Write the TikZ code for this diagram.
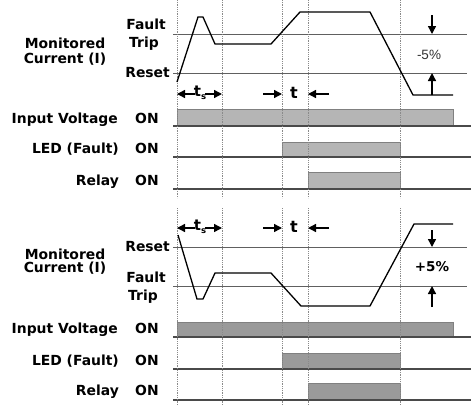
\documentclass[tikz,border=0pt]{standalone}
\usepackage{fontspec}
\setmainfont{DejaVu Sans}
\newfontfamily\pctfont{Liberation Sans}
\usetikzlibrary{arrows.meta}
\definecolor{barA}{HTML}{B5B5B5}
\definecolor{barB}{HTML}{9A9A9A}
\definecolor{edgeC}{HTML}{808080}
\definecolor{baseC}{HTML}{4A4A4A}
\definecolor{thrC}{HTML}{606060}
\definecolor{dotC}{HTML}{8A8A8A}
\begin{document}
\begin{tikzpicture}[x=1pt,y=-1pt,
  lbl/.style={font=\fontsize{13.9}{16}\selectfont\bfseries, inner sep=0pt},
  pct/.style={inner sep=0pt},
  wave/.style={line width=1.3pt, black, line join=miter},
  thr/.style={line width=0.8pt, thrC},
  baseln/.style={line width=1.4pt, baseC},
  guide/.style={line width=0.8pt, dotC, densely dotted},
  barTop/.style={fill=barA, draw=edgeC, line width=0.6pt},
  barBot/.style={fill=barB, draw=edgeC, line width=0.6pt},
  arr/.style={line width=1.4pt, -{Triangle[length=8pt,width=8pt]}},
]
\useasboundingbox (0,0) rectangle (471,405);

% ================= TOP PANEL =================
\path[barTop] (177,109) rectangle (453,126);
\path[barTop] (282,142) rectangle (400,157);
\path[barTop] (308,172) rectangle (400,189);
\coordinate (tb1a) at (173,126); \coordinate (tb1b) at (471,126);
\coordinate (tb2a) at (173,157); \coordinate (tb2b) at (471,157);
\coordinate (tb3a) at (173,189); \coordinate (tb3b) at (471,189);
\draw[baseln] (tb1a) -- (tb1b);
\draw[baseln] (tb2a) -- (tb2b);
\draw[baseln] (tb3a) -- (tb3b);
\coordinate (ttripa) at (173,34); \coordinate (ttripb) at (467,34);
\coordinate (tresa) at (173,73); \coordinate (tresb) at (467,73);
\draw[thr] (ttripa) -- (ttripb);
\draw[thr] (tresa) -- (tresb);
\foreach \x/\n in {177/a,222/b,282/c,308/d,400/e}{
  \coordinate (tg\n1) at (\x,0); \coordinate (tg\n2) at (\x,198);
  \draw[guide] (tg\n1) -- (tg\n2);
}
\coordinate (w1) at (177,82);
\coordinate (w2) at (198,17);
\coordinate (w3) at (203,17);
\coordinate (w4) at (215,44);
\coordinate (w5) at (271,44);
\coordinate (w6) at (300,12);
\coordinate (w7) at (370,12);
\coordinate (w8) at (413,95);
\coordinate (w9) at (453,95);
\draw[wave] (w1) -- (w2) -- (w3) -- (w4) -- (w5) -- (w6) -- (w7) -- (w8) -- (w9);
\coordinate (tda) at (432,15); \coordinate (tdb) at (432,34);
\coordinate (tua) at (432,95); \coordinate (tub) at (432,73);
\draw[arr] (tda) -- (tdb);
\draw[arr] (tua) -- (tub);
\node[pct, font=\pctfont\fontsize{13.5}{15}\selectfont, text=black!80] (tpct) at (429,55) {-5\%};
\node[lbl, font=\fontsize{15}{17}\selectfont\bfseries] (tts) at (200,93) {t\raisebox{-3.5pt}{\fontsize{8.5}{9}\selectfont s}};
\coordinate (tsl) at (177,94); \coordinate (tsr) at (222,94);
\draw[arr] ([xshift=1pt]tts.west|-tsl) -- (tsl);
\draw[arr] ([xshift=-1pt]tts.east|-tsr) -- (tsr);
\node[lbl, font=\fontsize{16}{18}\selectfont\bfseries] (tt) at (294,93) {t};
\coordinate (ttl0) at (263,94); \coordinate (ttl1) at (282,94);
\coordinate (ttr0) at (329,94); \coordinate (ttr1) at (308,94);
\draw[arr] (ttl0) -- (ttl1);
\draw[arr] (ttr0) -- (ttr1);
\node[lbl, anchor=base] (tmon) at (65,48.5) {Monitored};
\node[lbl, anchor=base] (tcur) at (65,63) {Current (I)};
\node[lbl, anchor=base] (tfault) at (146,29.5) {Fault};
\node[lbl, anchor=base] (ttrip) at (144,47.5) {Trip};
\node[lbl, anchor=base east] (treset) at (170,77.5) {Reset};
\node[lbl, anchor=base east] (tin) at (118,123) {Input Voltage};
\node[lbl, anchor=base west] (ton1) at (135,123) {ON};
\node[lbl, anchor=base east] (tled) at (119,153.5) {LED (Fault)};
\node[lbl, anchor=base west] (ton2) at (135,153.5) {ON};
\node[lbl, anchor=base east] (trel) at (119,185) {Relay};
\node[lbl, anchor=base west] (ton3) at (135,185) {ON};

% ================= BOTTOM PANEL =================
\path[barBot] (177,322) rectangle (453,337);
\path[barBot] (282,353) rectangle (400,369);
\path[barBot] (308,383) rectangle (400,400);
\coordinate (bb1a) at (173,337); \coordinate (bb1b) at (471,337);
\coordinate (bb2a) at (173,369); \coordinate (bb2b) at (471,369);
\coordinate (bb3a) at (173,400); \coordinate (bb3b) at (471,400);
\draw[baseln] (bb1a) -- (bb1b);
\draw[baseln] (bb2a) -- (bb2b);
\draw[baseln] (bb3a) -- (bb3b);
\coordinate (bresa) at (173,247); \coordinate (bresb) at (467,247);
\coordinate (btripa) at (173,286); \coordinate (btripb) at (467,286);
\draw[thr] (bresa) -- (bresb);
\draw[thr] (btripa) -- (btripb);
\foreach \x/\n in {177/a,222/b,282/c,308/d,400/e}{
  \coordinate (bg\n1) at (\x,208); \coordinate (bg\n2) at (\x,405);
  \draw[guide] (bg\n1) -- (bg\n2);
}
\coordinate (v1) at (178,235);
\coordinate (v2) at (197,299);
\coordinate (v3) at (203,299);
\coordinate (v4) at (215,273);
\coordinate (v5) at (271,273);
\coordinate (v6) at (301,306);
\coordinate (v7) at (370,306);
\coordinate (v8) at (414,224);
\coordinate (v9) at (453,224);
\draw[wave] (v1) -- (v2) -- (v3) -- (v4) -- (v5) -- (v6) -- (v7) -- (v8) -- (v9);
\coordinate (bda) at (432,230); \coordinate (bdb) at (432,247);
\coordinate (bua) at (432,307); \coordinate (bub) at (432,286);
\draw[arr] (bda) -- (bdb);
\draw[arr] (bua) -- (bub);
\node[lbl, font=\fontsize{13.5}{15}\selectfont\bfseries] (bpct) at (432,267) {+5\%};
\node[lbl, font=\fontsize{15}{17}\selectfont\bfseries] (bts) at (200,227) {t\raisebox{-3.5pt}{\fontsize{8.5}{9}\selectfont s}};
\coordinate (bsl) at (177,228); \coordinate (bsr) at (222,228);
\draw[arr] ([xshift=1pt]bts.west|-bsl) -- (bsl);
\draw[arr] ([xshift=-1pt]bts.east|-bsr) -- (bsr);
\node[lbl, font=\fontsize{16}{18}\selectfont\bfseries] (bt) at (294,227) {t};
\coordinate (btl0) at (263,228); \coordinate (btl1) at (282,228);
\coordinate (btr0) at (329,228); \coordinate (btr1) at (308,228);
\draw[arr] (btl0) -- (btl1);
\draw[arr] (btr0) -- (btr1);
\node[lbl, anchor=base] (bmon) at (65,259) {Monitored};
\node[lbl, anchor=base] (bcur) at (65,272) {Current (I)};
\node[lbl, anchor=base east] (breset) at (170,251) {Reset};
\node[lbl, anchor=base] (bfault) at (146,282) {Fault};
\node[lbl, anchor=base] (btrip) at (143,300) {Trip};
\node[lbl, anchor=base east] (bin) at (118,333.5) {Input Voltage};
\node[lbl, anchor=base west] (bon1) at (135,333.5) {ON};
\node[lbl, anchor=base east] (bled) at (119,365) {LED (Fault)};
\node[lbl, anchor=base west] (bon2) at (135,365) {ON};
\node[lbl, anchor=base east] (brel) at (119,395.5) {Relay};
\node[lbl, anchor=base west] (bon3) at (135,395.5) {ON};
\end{tikzpicture}
\end{document}
